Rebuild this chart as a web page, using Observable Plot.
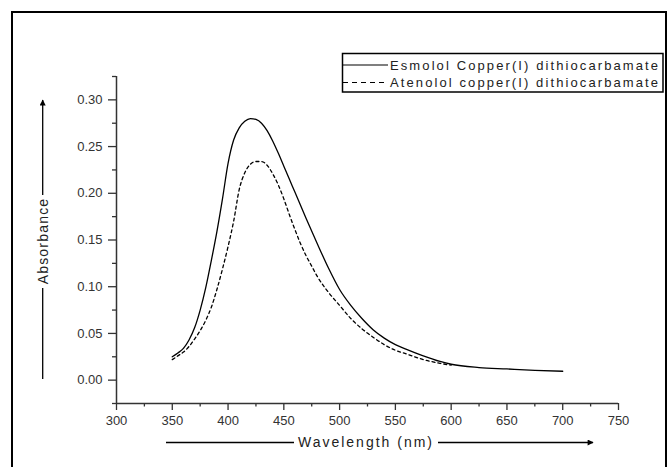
<!DOCTYPE html>
<html>
<head>
<meta charset="utf-8">
<script src="https://cdn.jsdelivr.net/npm/d3@7"></script>
<script src="https://cdn.jsdelivr.net/npm/@observablehq/plot@0.6"></script>
<style>
  html, body { margin: 0; padding: 0; background: #fff; }
  #wrap { position: relative; width: 668px; height: 467px; overflow: hidden; font-family: "Liberation Sans", Arial, sans-serif; }
  #frame { position: absolute; left: 11px; top: 11px; width: 656px; height: 480px; box-sizing: border-box; border: 2px solid #000; pointer-events: none; }
  #chart { position: absolute; left: 0; top: 0; }
  #overlay { position: absolute; left: 0; top: 0; }
</style>
</head>
<body>
<div id="wrap">
  <div id="chart"></div>
  <svg id="overlay" width="668" height="467"></svg>
  <div id="frame"></div>
</div>
<script>
// ---- data ----
const seriesNames = ["Esmolol Copper(I) dithiocarbamate", "Atenolol copper(I) dithiocarbamate"];
const xLabel = "Wavelength (nm)";
const yLabel = "Absorbance";

const wavelengthTicks = [300, 350, 400, 450, 500, 550, 600, 650, 700, 750];
const wavelengthMinor = [325, 375, 425, 475, 525, 575, 625, 675, 725];
const absorbanceTicks = [0, 0.05, 0.10, 0.15, 0.20, 0.25, 0.30];
const absorbanceMinor = [-0.025, 0.025, 0.075, 0.125, 0.175, 0.225, 0.275, 0.325];
const xDomain = [300, 750];
const yDomain = [-0.025, 0.325];

const wlEsmolol  = [350, 355, 360, 365, 370, 375, 380, 385, 390, 395, 400, 405, 410, 415, 420, 425, 430, 435, 440, 445, 450, 455, 460, 470, 480, 490, 500, 510, 520, 530, 540, 550, 560, 575, 590, 600, 625, 650, 675, 700];
const absEsmolol = [0.025, 0.029, 0.034, 0.043, 0.056, 0.075, 0.099, 0.128, 0.159, 0.194, 0.232, 0.257, 0.270, 0.277, 0.280, 0.279, 0.275, 0.267, 0.256, 0.243, 0.229, 0.215, 0.201, 0.173, 0.146, 0.120, 0.097, 0.080, 0.066, 0.054, 0.045, 0.038, 0.033, 0.026, 0.020, 0.017, 0.0135, 0.012, 0.0105, 0.0095];

const wlAtenolol  = [350, 355, 360, 365, 370, 375, 380, 385, 390, 395, 400, 405, 410, 415, 420, 425, 430, 435, 440, 445, 450, 455, 460, 465, 470, 475, 480, 490, 500, 510, 520, 530, 540, 550, 560, 575, 590, 600];
const absAtenolol = [0.022, 0.026, 0.030, 0.036, 0.044, 0.053, 0.064, 0.078, 0.097, 0.119, 0.143, 0.170, 0.204, 0.222, 0.231, 0.234, 0.234, 0.230, 0.221, 0.209, 0.194, 0.177, 0.161, 0.146, 0.133, 0.122, 0.111, 0.094, 0.080, 0.066, 0.055, 0.046, 0.038, 0.032, 0.028, 0.022, 0.018, 0.016];

const esmolol = wlEsmolol.map((w, i) => ({wl: w, abs: absEsmolol[i]}));
const atenolol = wlAtenolol.map((w, i) => ({wl: w, abs: absAtenolol[i]}));

const fontFam = '"Liberation Sans", Arial, sans-serif';

const chart = Plot.plot({
  width: 668,
  height: 467,
  marginLeft: 116,
  marginRight: 50,
  marginTop: 76,
  marginBottom: 64,
  x: {domain: xDomain},
  y: {domain: yDomain},
  style: {fontFamily: fontFam, fontSize: "13px", color: "#333", background: "transparent", overflow: "visible"},
  marks: [
    Plot.axisY(absorbanceTicks, {tickSize: 8, tickPadding: 6, tickFormat: d3.format(".2f"), label: null, fontSize: 13, stroke: "#333", strokeWidth: 1.3}),
    Plot.axisY(absorbanceMinor, {tickSize: 4, tickFormat: () => "", label: null, stroke: "#333", strokeWidth: 1.3}),
    Plot.axisX(wavelengthTicks, {tickSize: 7, tickPadding: 5, tickFormat: d3.format("d"), label: null, fontSize: 13, stroke: "#333", strokeWidth: 1.3}),
    Plot.axisX(wavelengthMinor, {tickSize: 3.5, tickFormat: () => "", label: null, stroke: "#333", strokeWidth: 1.3}),
    Plot.ruleX([xDomain[0]], {stroke: "#333", strokeWidth: 1.5}),
    Plot.ruleY([yDomain[0]], {stroke: "#333", strokeWidth: 1.5}),
    Plot.line(esmolol, {x: "wl", y: "abs", curve: "monotone-x", stroke: "#000", strokeWidth: 1.3}),
    Plot.line(atenolol, {x: "wl", y: "abs", curve: "monotone-x", stroke: "#000", strokeWidth: 1.3, strokeDasharray: "3,3"})
  ]
});
document.getElementById("chart").appendChild(chart);

// ---- decorations: axis titles with arrows, legend ----
const svg = d3.select("#overlay");
const defs = svg.append("defs");
defs.append("marker").attr("id", "ah").attr("viewBox", "0 0 10 10").attr("refX", 9).attr("refY", 5)
  .attr("markerWidth", 8).attr("markerHeight", 6).attr("markerUnits", "userSpaceOnUse").attr("orient", "auto")
  .append("path").attr("d", "M0,0L10,5L0,10z").attr("fill", "#000");

// x title
svg.append("line").attr("x1", 166).attr("y1", 442.5).attr("x2", 294).attr("y2", 442.5).attr("stroke", "#000").attr("stroke-width", 1.3);
svg.append("line").attr("x1", 438).attr("y1", 442.5).attr("x2", 593).attr("y2", 442.5).attr("stroke", "#000").attr("stroke-width", 1.3).attr("marker-end", "url(#ah)");
svg.append("text").attr("x", 366).attr("y", 447).attr("text-anchor", "middle")
  .attr("font-family", fontFam).attr("font-size", 14).attr("letter-spacing", "2px").attr("fill", "#222").text(xLabel);

// y title
svg.append("line").attr("x1", 42.7).attr("y1", 379).attr("x2", 42.7).attr("y2", 288).attr("stroke", "#000").attr("stroke-width", 1.3);
svg.append("line").attr("x1", 42.7).attr("y1", 195).attr("x2", 42.7).attr("y2", 100).attr("stroke", "#000").attr("stroke-width", 1.3).attr("marker-end", "url(#ah)");
svg.append("text").attr("transform", "translate(47.5,241) rotate(-90)").attr("text-anchor", "middle")
  .attr("font-family", fontFam).attr("font-size", 14).attr("letter-spacing", "1.2px").attr("fill", "#222").text(yLabel);

// legend
const lg = svg.append("g");
lg.append("rect").attr("x", 342.5).attr("y", 53.5).attr("width", 320.5).attr("height", 38.5)
  .attr("fill", "#fff").attr("stroke", "#000").attr("stroke-width", 1.5);
const rows = [{y: 65, dash: null}, {y: 82.5, dash: "5,4"}];
rows.forEach((r, i) => {
  const ln = lg.append("line").attr("x1", 343).attr("x2", 388).attr("y1", r.y).attr("y2", r.y).attr("stroke", "#000").attr("stroke-width", 1.2);
  if (r.dash) ln.attr("stroke-dasharray", r.dash);
  lg.append("text").attr("x", 390).attr("y", r.y + 4.5).attr("font-family", fontFam).attr("font-size", 13)
    .attr("letter-spacing", "2.1px").attr("fill", "#222").text(seriesNames[i]);
});
</script>
</body>
</html>
